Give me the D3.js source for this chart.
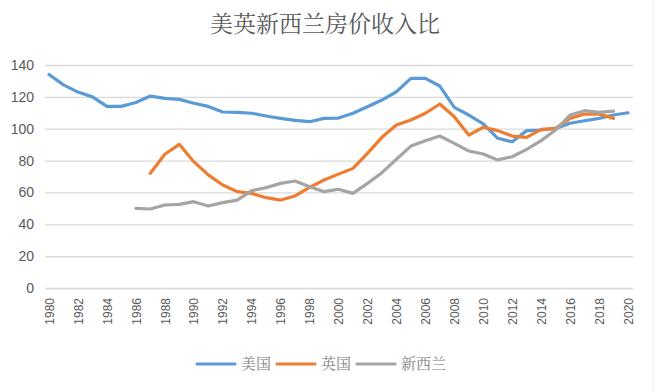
<!DOCTYPE html>
<html><head><meta charset="utf-8">
<script src="https://cdn.jsdelivr.net/npm/d3@7"></script>
<style>
html,body{margin:0;padding:0;background:#fff;}
svg{display:block;}
</style></head>
<body>
<svg id="chart" width="660" height="392"></svg>
<script>
const title = "美英新西兰房价收入比";
const years = d3.range(1980, 2021);
const yTicks = [0, 20, 40, 60, 80, 100, 120, 140];
const xTickLabels = d3.range(1980, 2021, 2);
const seriesNames = ["美国", "英国", "新西兰"];
const seriesColors = ["#5B9BD5", "#ED7D31", "#A5A5A5"];
// 美国 1980-2020
const usa = [134, 127.5, 123, 120, 114, 114, 116.5, 120.5, 119, 118.4, 116, 114, 110.5, 110.3, 109.7, 108, 106.5, 105.2, 104.4, 106.5,
  106.7, 109.7, 113.8, 118, 123.2, 131.6, 131.6, 126.8, 113.4, 108.6, 103, 94, 91.8, 98.8, 99.2, 100.2, 103.4, 105, 106.5, 108.6, 110];
// 英国 1987-2019
const uk = [null, null, null, null, null, null, null, 72, 84, 90.2, 79.3, 71, 64.7, 60.5, 59.4, 56.7, 55.2, 57.8, 63.2, 67.8,
  71.5, 75.1, 84.5, 94.6, 102.3, 105.5, 109.7, 115.5, 107.5, 96, 100.9, 98.8, 95.4, 94.6, 99.6, 100.2, 106.5, 109.2, 109.2, 106.5, null];
// 新西兰 1986-2019
const nz = [null, null, null, null, null, null, 50, 49.6, 52.1, 52.5, 54.2, 51.5, 53.6, 55.2, 61.1, 63, 65.7, 67.2, 63.6, 60.5,
  62, 59.4, 65.7, 72.4, 80.8, 89.1, 92.5, 95.4, 90.8, 86, 84.1, 80.4, 82.4, 87, 92.5, 99.2, 108.6, 111.3, 110.3, 111.1, null];

const svg = d3.select("#chart");
const x = d3.scalePoint().domain(years).range([49, 628]);
const y = d3.scaleLinear().domain([0, 140]).range([288, 65]);

// title
svg.append("text").attr("x", 325).attr("y", 32).attr("text-anchor", "middle")
  .attr("font-family", "'Noto Serif CJK SC','Noto Sans CJK SC',serif").attr("font-size", 23)
  .attr("fill", "#595959").text(title);

// faint right border
svg.append("line").attr("x1", 653).attr("x2", 653).attr("y1", 0).attr("y2", 392)
  .attr("stroke", "#eeeeee").attr("stroke-width", 1);

// gridlines
const yAxis = d3.axisLeft(y).tickValues(yTicks).tickSize(-(633 - 45)).tickPadding(10);
const gy = svg.append("g").attr("transform", "translate(45,0)").call(yAxis);
gy.select(".domain").remove();
gy.selectAll(".tick line").attr("stroke", "#d9d9d9").attr("stroke-width", 1.3);
gy.selectAll(".tick text").attr("font-family", "'Liberation Sans',Arial,sans-serif")
  .attr("font-size", 14).attr("fill", "#595959").attr("x", -11);

// x axis labels
const xAxis = d3.axisBottom(x).tickValues(xTickLabels).tickSize(0).tickPadding(0);
const gx = svg.append("g").attr("transform", "translate(0,288)").call(xAxis);
gx.select(".domain").remove();
gx.selectAll(".tick text")
  .attr("font-family", "'Liberation Sans',Arial,sans-serif").attr("font-size", 12).attr("fill", "#595959")
  .attr("transform", "rotate(-90)").attr("text-anchor", "end").attr("x", -10).attr("y", 0).attr("dy", "0.35em");

// lines
const line = d3.line().defined(d => d[1] != null).x(d => x(d[0])).y(d => y(d[1]));
[usa, uk, nz].forEach((s, i) => {
  svg.append("path").datum(years.map((yr, j) => [yr, s[j]]))
    .attr("fill", "none").attr("stroke", seriesColors[i]).attr("stroke-width", 3.2)
    .attr("stroke-linejoin", "round").attr("stroke-linecap", "round").attr("d", line);
});

// legend
const legendX = [197, 277, 357];
seriesNames.forEach((n, i) => {
  const g = svg.append("g").attr("transform", `translate(${legendX[i]},364)`);
  g.append("line").attr("x1", 0).attr("x2", 38).attr("y1", 0).attr("y2", 0)
    .attr("stroke", seriesColors[i]).attr("stroke-width", 3.2).attr("stroke-linecap", "round");
  g.append("text").attr("x", 44).attr("y", 0).attr("dy", "0.36em")
    .attr("font-family", "'Noto Serif CJK SC','Noto Sans CJK SC',serif").attr("font-size", 15)
    .attr("fill", "#7f7f7f").text(n);
});
</script>
</body></html>
